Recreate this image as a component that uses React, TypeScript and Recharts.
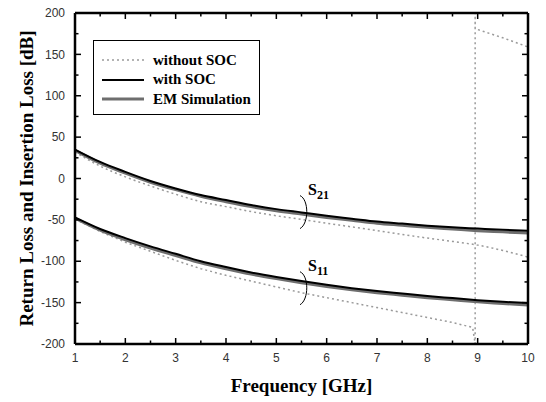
import { Line, LineChart, ReferenceDot, XAxis, YAxis } from "recharts"

/******************************************************************************
                              Data
******************************************************************************/

const FREQ = [1, 1.5, 2, 2.5, 3, 3.5, 4, 4.5, 5, 5.5, 6, 6.5, 7, 7.5, 8, 8.5, 9, 9.5, 10]

const S21_SOC = [35, 20, 8, -3, -12, -20, -26, -32, -37, -41, -45, -48.5, -52, -54.5, -57, -59, -60.5, -62, -63]
const S21_EM = [34, 18.5, 6.5, -4.5, -13.5, -21.5, -28, -34, -39, -43, -47, -50.5, -54, -56.5, -59, -61, -63, -64.5, -66]
const S21_NOSOC = [32, 15, 2, -9, -19, -28, -34, -40, -45, -49.5, -54, -58.5, -63, -67.5, -72, -76, -80.5, -87, -95]

const S11_SOC = [-47, -61, -72, -82, -91, -100, -107, -113.5, -119, -124, -128.5, -132.5, -136, -139, -142, -144.5, -147, -149, -150.5]
const S11_EM = [-48, -62.5, -74, -84, -93, -102, -109, -115.5, -121, -126, -130.5, -134.5, -138, -141, -144, -146.5, -149, -151, -153]

// without SOC, S11 wraps from -200 to +200 near 8.95 GHz
const S11_NOSOC_F = [1, 1.5, 2, 2.5, 3, 3.5, 4, 4.5, 5, 5.5, 6, 6.5, 7, 7.5, 8, 8.5, 8.9, 8.95, 8.95, 8.95, 9.5, 10]
const S11_NOSOC = [-49, -64, -77, -88, -99, -109, -117, -124, -131, -138, -144, -150, -156, -162, -168, -174, -180, -200, 200, 181, 170, 159]

const X_TICKS = [1, 1.5, 2, 2.5, 3, 3.5, 4, 4.5, 5, 5.5, 6, 6.5, 7, 7.5, 8, 8.5, 9, 9.5, 10]
const Y_TICKS = [-200, -175, -150, -125, -100, -75, -50, -25, 0, 25, 50, 75, 100, 125, 150, 175, 200]

const LEGEND = ["without SOC", "with SOC", "EM Simulation"]

/******************************************************************************
                              Constants
******************************************************************************/

const SERIF = '"Liberation Serif", "Times New Roman", serif'
const SANS = '"Liberation Sans", Arial, sans-serif'
const NOSOC_STYLE = { stroke: "#9a9a9a", strokeWidth: 1.5, strokeDasharray: "2 3" }
const SOC_STYLE = { stroke: "#000", strokeWidth: 2 }
const EM_STYLE = { stroke: "#6e6e6e", strokeWidth: 3 }

function toPoints(xs: number[], ys: number[]) {
  return xs.map((f, i) => ({ f, v: ys[i] }))
}

/******************************************************************************
                              Components
******************************************************************************/

function makeTick(side: "left" | "right" | "top" | "bottom", labelled: boolean) {
  return function Tick(props: any) {
    const x = Number(props.x)
    const y = Number(props.y)
    const v = props.payload.value as number
    const vertical = side === "left" || side === "right"
    const major = vertical ? v % 50 === 0 : Number.isInteger(v)
    const len = major ? 6 : 3.5
    let x2 = x
    let y2 = y
    if (side === "left") x2 = x + len
    else if (side === "right") x2 = x - len
    else if (side === "bottom") y2 = y - len
    else y2 = y + len
    return (
      <g>
        <path d={`M${x},${y}L${x2},${y2}`} stroke="#000" strokeWidth={1.5} fill="none" />
        {labelled && major && side === "left" && (
          <text x={x - 10} y={y} dy="0.35em" textAnchor="end" fontSize={12} fontFamily={SANS} fill="#333">
            {v}
          </text>
        )}
        {labelled && major && side === "bottom" && (
          <text x={x} y={y + 18} textAnchor="middle" fontSize={12} fontFamily={SANS} fill="#333">
            {v}
          </text>
        )}
      </g>
    )
  }
}

function Brace(props: any) {
  const { cx, cy, sub } = props
  return (
    <g>
      <path
        d={`M ${cx - 4} ${cy - 16} C ${cx + 5} ${cy - 12}, ${cx + 5} ${cy + 12}, ${cx - 4} ${cy + 17}`}
        fill="none"
        stroke="#000"
        strokeWidth={1}
      />
      <text x={cx + 4} y={cy - 17} fontFamily={SERIF} fontWeight="bold" fontSize={16} fill="#000">
        S
        <tspan dy={4} fontSize={12}>{sub}</tspan>
      </text>
    </g>
  )
}

function LegendBox() {
  const styles = [NOSOC_STYLE, SOC_STYLE, EM_STYLE]
  return (
    <div
      style={{
        position: "absolute",
        left: 93,
        top: 40,
        width: 167,
        height: 75,
        border: "1px solid #000",
        background: "#fff",
        boxSizing: "border-box",
      }}
    >
      {LEGEND.map((name, i) => (
        <div
          key={name}
          style={{
            position: "absolute",
            left: 8,
            top: 10 + i * 19.5,
            height: 18,
            display: "flex",
            alignItems: "center",
          }}
        >
          <svg width={42} height={6}>
            <line x1={0} y1={3} x2={42} y2={3} {...styles[i]} />
          </svg>
          <span
            style={{
              marginLeft: 9,
              fontFamily: SERIF,
              fontWeight: "bold",
              fontSize: 15,
              color: "#000",
              whiteSpace: "nowrap",
            }}
          >
            {name}
          </span>
        </div>
      ))}
    </div>
  )
}

function YTitle(props: any) {
  const { viewBox } = props
  const x = viewBox.x + 26
  const y = viewBox.y + viewBox.height / 2
  return (
    <text
      x={x}
      y={y}
      transform={`rotate(-90 ${x} ${y})`}
      textAnchor="middle"
      dominantBaseline="central"
      fontFamily={SERIF}
      fontWeight="bold"
      fontSize={19}
      fill="#000"
    >
      Return Loss and Insertion Loss [dB]
    </text>
  )
}

function XTitle(props: any) {
  const { viewBox } = props
  return (
    <text
      x={viewBox.x + viewBox.width / 2}
      y={viewBox.y + 48}
      textAnchor="middle"
      fontFamily={SERIF}
      fontWeight="bold"
      fontSize={19}
      fill="#000"
    >
      Frequency [GHz]
    </text>
  )
}

export default function App() {
  const axisLine = { stroke: "#000", strokeWidth: 2.5 }
  return (
    <div style={{ position: "absolute", left: 0, top: 0, width: 546, height: 402, background: "#fff" }}>
      <LineChart width={546} height={402} margin={{ top: 12, right: 17, left: 0, bottom: 0 }}>
        <XAxis
          xAxisId="b"
          type="number"
          dataKey="f"
          domain={[1, 10]}
          ticks={X_TICKS}
          interval={0}
          tickSize={0}
          tickMargin={0}
          height={58}
          axisLine={axisLine}
          tickLine={false}
          tick={makeTick("bottom", true)}
          label={<XTitle />}
        />
        <XAxis
          xAxisId="t"
          orientation="top"
          type="number"
          dataKey="f"
          domain={[1, 10]}
          ticks={X_TICKS}
          interval={0}
          tickSize={0}
          tickMargin={0}
          height={1}
          axisLine={axisLine}
          tickLine={false}
          tick={makeTick("top", false)}
        />
        <YAxis
          yAxisId="l"
          type="number"
          domain={[-200, 200]}
          ticks={Y_TICKS}
          interval={0}
          tickSize={0}
          tickMargin={0}
          width={75}
          axisLine={axisLine}
          tickLine={false}
          tick={makeTick("left", true)}
          label={<YTitle />}
        />
        <YAxis
          yAxisId="r"
          orientation="right"
          type="number"
          domain={[-200, 200]}
          ticks={Y_TICKS}
          interval={0}
          tickSize={0}
          tickMargin={0}
          width={1}
          axisLine={axisLine}
          tickLine={false}
          tick={makeTick("right", false)}
        />
        <Line
          xAxisId="t"
          yAxisId="r"
          data={toPoints(FREQ, S21_SOC)}
          dataKey="v"
          stroke="transparent"
          dot={false}
          legendType="none"
          isAnimationActive={false}
        />
        <Line
          xAxisId="b"
          yAxisId="l"
          data={toPoints(S11_NOSOC_F, S11_NOSOC)}
          dataKey="v"
          type="linear"
          {...NOSOC_STYLE}
          dot={false}
          isAnimationActive={false}
        />
        <Line
          xAxisId="b"
          yAxisId="l"
          data={toPoints(FREQ, S21_NOSOC)}
          dataKey="v"
          type="monotone"
          {...NOSOC_STYLE}
          dot={false}
          isAnimationActive={false}
        />
        <Line
          xAxisId="b"
          yAxisId="l"
          data={toPoints(FREQ, S21_EM)}
          dataKey="v"
          type="monotone"
          {...EM_STYLE}
          dot={false}
          isAnimationActive={false}
        />
        <Line
          xAxisId="b"
          yAxisId="l"
          data={toPoints(FREQ, S11_EM)}
          dataKey="v"
          type="monotone"
          {...EM_STYLE}
          dot={false}
          isAnimationActive={false}
        />
        <Line
          xAxisId="b"
          yAxisId="l"
          data={toPoints(FREQ, S21_SOC)}
          dataKey="v"
          type="monotone"
          {...SOC_STYLE}
          dot={false}
          isAnimationActive={false}
        />
        <Line
          xAxisId="b"
          yAxisId="l"
          data={toPoints(FREQ, S11_SOC)}
          dataKey="v"
          type="monotone"
          {...SOC_STYLE}
          dot={false}
          isAnimationActive={false}
        />
        <ReferenceDot
          xAxisId="b"
          yAxisId="l"
          x={5.55}
          y={-40}
          r={0}
          shape={(p: any) => <Brace {...p} sub="21" />}
        />
        <ReferenceDot
          xAxisId="b"
          yAxisId="l"
          x={5.55}
          y={-132}
          r={0}
          shape={(p: any) => <Brace {...p} sub="11" />}
        />
      </LineChart>
      <LegendBox />
    </div>
  )
}
